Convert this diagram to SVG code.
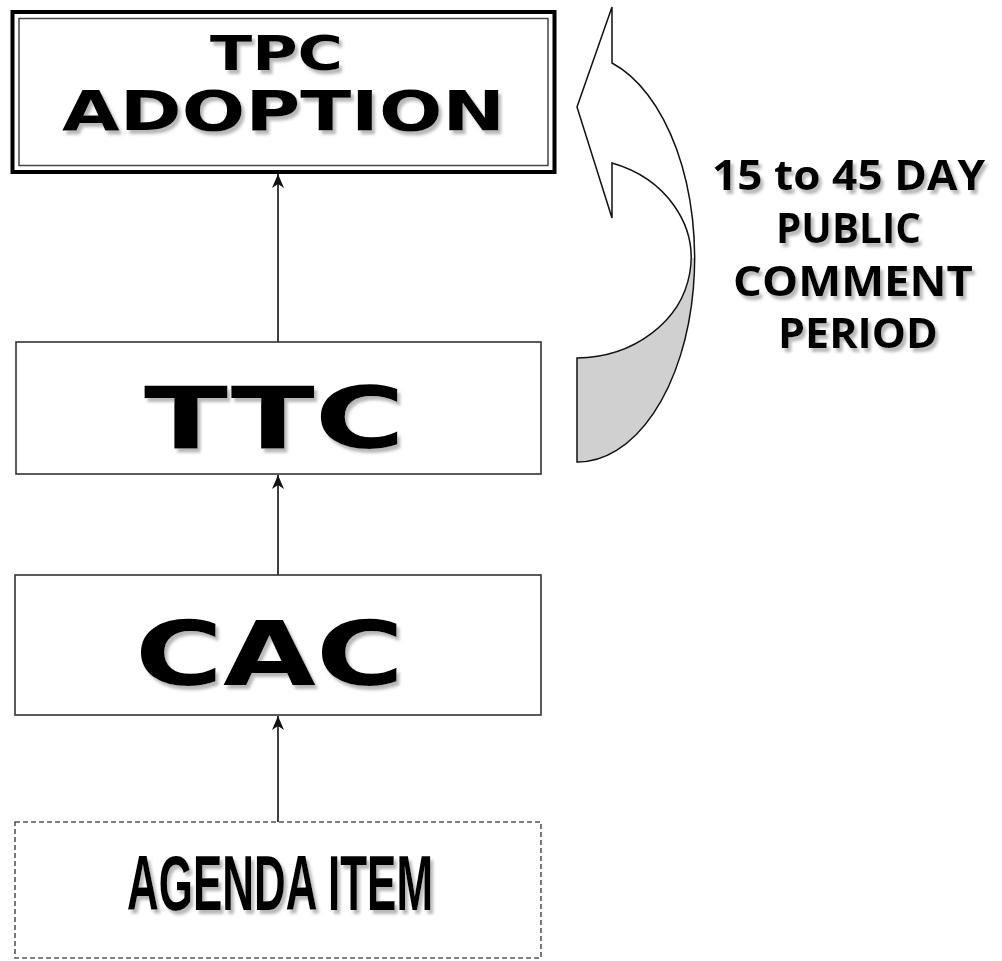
<svg xmlns="http://www.w3.org/2000/svg" width="1002" height="961" viewBox="0 0 1002 961">
<style>
.box{fill:#fff;stroke:#333;stroke-width:1.6}
.dash{fill:#fff;stroke:#555;stroke-width:1.6;stroke-dasharray:5,3}
.wide{font-family:"DejaVu Sans",sans-serif;font-weight:bold;fill:#000;text-anchor:start}
.cond{font-family:"Liberation Sans",sans-serif;font-weight:bold;fill:#000}
.side{font-family:"Open Sans","DejaVu Sans",sans-serif;font-weight:bold;fill:#000}
.conn{stroke:#111;stroke-width:1.6;fill:none}
</style>
<defs>
<filter id="sh" x="-10%" y="-20%" width="130%" height="160%">
<feGaussianBlur in="SourceAlpha" stdDeviation="1.5"/>
<feOffset dx="3" dy="4" result="o"/>
<feFlood flood-color="#888" flood-opacity="0.6"/>
<feComposite in2="o" operator="in"/>
<feMerge><feMergeNode/><feMergeNode in="SourceGraphic"/></feMerge>
</filter>
<marker id="ah" viewBox="0 0 14 12" refX="14" refY="6" markerWidth="14" markerHeight="12" markerUnits="userSpaceOnUse" orient="auto">
<path d="M0,0 L14,6 L0,12 L4,6 Z" fill="#111"/>
</marker>
</defs>
<rect width="1002" height="961" fill="#fff"/>

<g id="connectors">
<line class="conn" x1="278" y1="342" x2="278" y2="174" marker-end="url(#ah)"/>
<line class="conn" x1="278" y1="575" x2="278" y2="475" marker-end="url(#ah)"/>
<line class="conn" x1="278" y1="822" x2="278" y2="716" marker-end="url(#ah)"/>
</g>

<g id="tpc">
<rect x="12.5" y="12" width="542" height="160" fill="#fff" stroke="#000" stroke-width="4"/>
<rect x="19" y="18.5" width="529" height="147" fill="none" stroke="#444" stroke-width="1.5"/>
<g filter="url(#sh)">
<text class="wide" x="210" y="70" font-size="48" textLength="133" lengthAdjust="spacingAndGlyphs">TPC</text>
<text class="wide" x="62" y="130" font-size="55" textLength="443" lengthAdjust="spacingAndGlyphs">ADOPTION</text>
</g>
</g>

<g id="ttc">
<rect class="box" x="16" y="342" width="525" height="132"/>
<text class="wide" x="144" y="448" font-size="86" textLength="261" lengthAdjust="spacingAndGlyphs" filter="url(#sh)">TTC</text>
</g>

<g id="cac">
<rect class="box" x="15" y="575" width="526" height="140"/>
<text class="wide" x="135" y="685" font-size="89" textLength="269" lengthAdjust="spacingAndGlyphs" filter="url(#sh)">CAC</text>
</g>

<g id="agenda">
<rect class="dash" x="15" y="822" width="526" height="136"/>
<text class="cond" x="127" y="910" font-size="77" textLength="306" lengthAdjust="spacingAndGlyphs" filter="url(#sh)">AGENDA ITEM</text>
</g>

<g id="curved-arrow">
<path d="M692,258 A115,100 0 0,1 577,358 L577,462 A117,204 0 0,0 694,258 Z" fill="#d0d0d0" stroke="none"/>
<path d="M612,7 L577,107 L612,218 L612,163 A115,100 0 0,1 577,358 L577,462 A117,204 0 0,0 612,63 Z" fill="none" stroke="#111" stroke-width="1.5" stroke-linejoin="miter"/>
</g>

<g id="comment-label" filter="url(#sh)">
<text class="side" x="712" y="190" font-size="42" textLength="273" lengthAdjust="spacingAndGlyphs">15 to 45 DAY</text>
<text class="side" x="776" y="243" font-size="42" textLength="145" lengthAdjust="spacingAndGlyphs">PUBLIC</text>
<text class="side" x="733" y="296" font-size="42" textLength="240" lengthAdjust="spacingAndGlyphs">COMMENT</text>
<text class="side" x="778" y="348" font-size="42" textLength="160" lengthAdjust="spacingAndGlyphs">PERIOD</text>
</g>
</svg>
